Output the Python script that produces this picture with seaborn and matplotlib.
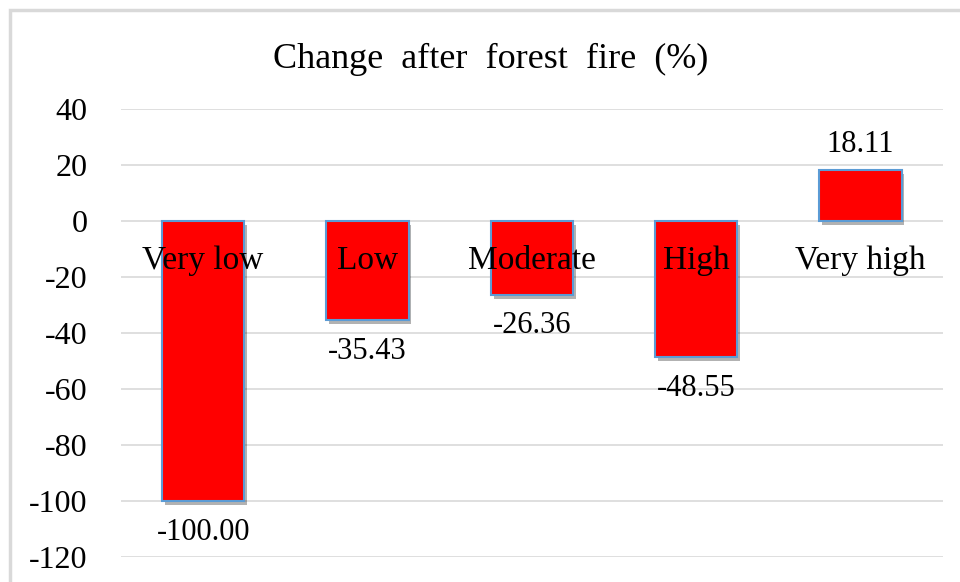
import matplotlib
matplotlib.use("Agg")
import matplotlib.pyplot as plt
import matplotlib.patheffects as pe
from matplotlib.patches import Rectangle
import seaborn as sns
import pandas as pd

# dati
categories = ["Very low", "Low", "Moderate", "High", "Very high"]
values = [-100.00, -35.43, -26.36, -48.55, 18.11]
yticks = [40, 20, 0, -20, -40, -60, -80, -100, -120]

df = pd.DataFrame({"class": categories, "change": values})

sns.set_theme(style="white")
plt.rcParams["font.family"] = ["Liberation Serif", "DejaVu Serif"]
plt.rcParams["axes.unicode_minus"] = False
plt.rcParams["text.color"] = "black"
plt.rcParams["xtick.color"] = "black"
plt.rcParams["ytick.color"] = "black"

fig = plt.figure(figsize=(9.6, 5.82), dpi=100)
ax = fig.add_axes([0.126, 0.043, 0.856, 0.770])

# cornice del grafico (tagliata a destra e in basso come nell'originale)
fig.patches.append(Rectangle((10 / 960, -0.1), 2.0, 1.1 - 10 / 582,
                             transform=fig.transFigure, fill=False,
                             edgecolor="#d9d9d9", linewidth=2.5, zorder=0))

sns.barplot(data=df, x="class", y="change", color="red", saturation=1,
            width=0.5, edgecolor="#5b9bd5", linewidth=1.5, ax=ax, zorder=3)
for bar in ax.patches:
    bar.set_path_effects([pe.SimplePatchShadow(offset=(2, -3), shadow_rgbFace="black", alpha=0.3),
                          pe.Normal()])

ax.set_ylim(-120, 40)
ax.set_yticks(yticks)
ax.yaxis.grid(True, color="#d9d9d9", linewidth=1.2)
ax.set_axisbelow(True)
for s in ax.spines.values():
    s.set_visible(False)

# etichette delle categorie lungo la linea dello zero, sopra le barre
ax.spines["bottom"].set_position(("data", 0))
ax.xaxis.set_zorder(5)
ax.tick_params(axis="x", length=0, pad=18, labelsize=24)
ax.tick_params(axis="y", length=0, pad=24, labelsize=23)
ax.set_xlabel("")
ax.set_ylabel("")

# etichette dei valori: positive sopra, negative sotto la barra
bars = ax.containers[0]
pos_labels = [f"{v:.2f}" if v >= 0 else "" for v in values]
neg_labels = [f"{v:.2f}" if v < 0 else "" for v in values]
ax.bar_label(bars, labels=pos_labels, padding=8, fontsize=22)
ax.bar_label(bars, labels=neg_labels, padding=12, fontsize=22)

fig.text(0.511, 0.898, "Change  after  forest  fire  (%)", ha="center", va="center",
         fontsize=26)

plt.savefig("out.png", dpi=100)
